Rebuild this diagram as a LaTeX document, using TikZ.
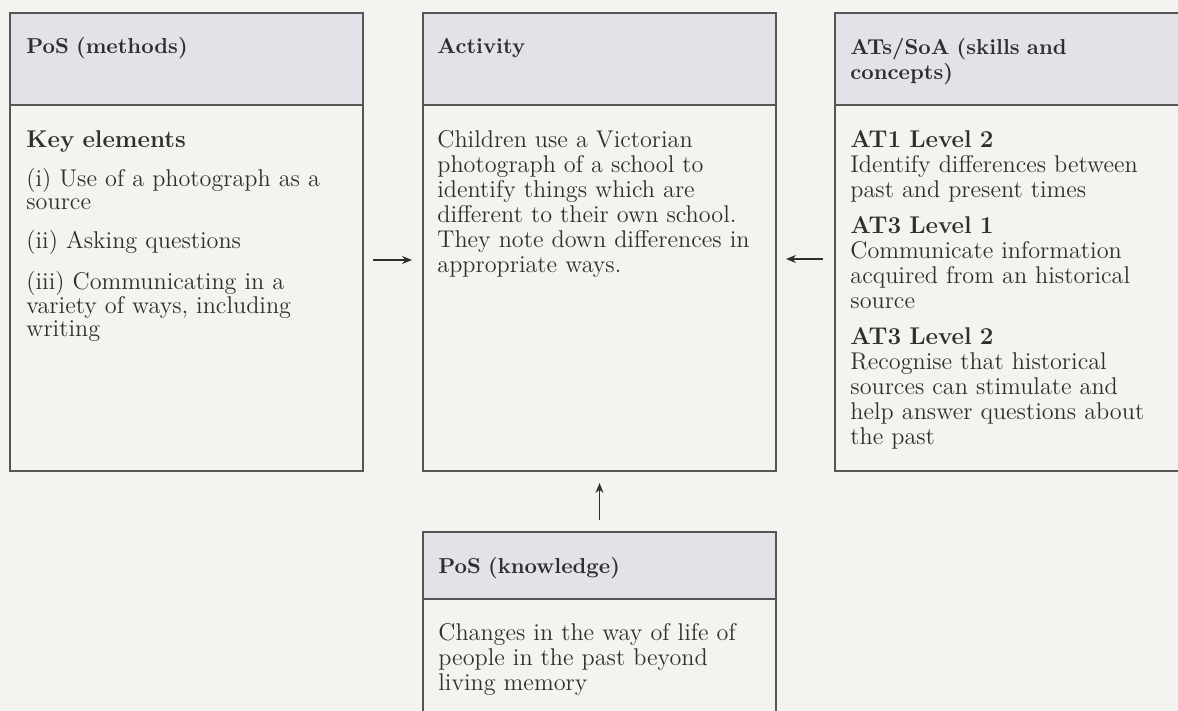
\documentclass[tikz,border=0pt]{standalone}
\usepackage{tikz}
\usetikzlibrary{positioning, arrows.meta}
\definecolor{paper}{HTML}{F3F3EF}
\definecolor{headblue}{HTML}{E1E3E9}
\definecolor{linegrey}{HTML}{555555}
\definecolor{inkgrey}{HTML}{2F2F2F}
\tikzset{
>={Stealth[length=5pt, width=4pt]}, % small filled heads as in the print
headbox/.style={draw=linegrey, fill=headblue, line width=0.6pt, outer sep=0pt, inner sep=0pt, minimum width=176.5pt, minimum height=46pt, anchor=north west},
bodybox/.style={draw=linegrey, line width=0.6pt, outer sep=0pt, inner sep=0pt, minimum width=176.5pt},
headtext/.style={anchor=base west, inner sep=0pt, text width=165pt, align=left, text=inkgrey, font=\fontsize{10.8}{12.5}\selectfont\bfseries},
bodytext/.style={anchor=base west, inner sep=0pt, text width=170pt, align=left, text=inkgrey, font=\fontsize{12.1}{12.5}\selectfont},
link/.style={->, draw=inkgrey, line width=0.65pt},
}
\begin{document}
\begin{tikzpicture}[x=0.5pt, y=-0.5pt]
\useasboundingbox (0,0) rectangle (1178,711);
\fill[paper] (0,0) rectangle (1178,711);
\clip (0,0) rectangle (1178,711);

% the four boxes: a shaded title strip over a plain body
\node[headbox] (mh) at (10,13) {};
\node[bodybox, minimum height=183pt, below=0pt of mh] (mb) {};
\node[headbox] (ah) at (423,13) {};
\node[bodybox, minimum height=183pt, below=0pt of ah] (ab) {};
\node[headbox, minimum width=180pt] (sh) at (835,13) {};
\node[bodybox, minimum width=180pt, minimum height=183pt, below=0pt of sh] (sb) {};
\node[headbox, minimum height=33.5pt] (kh) at (423,532) {};
\node[bodybox, minimum height=70pt, below=0pt of kh] (kb) {};

% titles
\node[headtext] (mht) at ([shift={(16,41)}]mh.north west) {PoS (methods)};
\node[headtext] (aht) at ([shift={(14,41)}]ah.north west) {Activity};
\node[headtext] (sht) at ([shift={(15,42)}]sh.north west) {ATs/SoA (skills and\\ concepts)};
\node[headtext] (kht) at ([shift={(15,41)}]kh.north west) {PoS (knowledge)};

% body texts
\node[bodytext, font=\fontsize{12.1}{11.75}\selectfont] (mbt) at ([shift={(16,43)}]mb.north west)
  {\textbf{Key elements}\\[7.5pt]
   (i) Use of a photograph as a\\ source\\[7.5pt]
   (ii) Asking questions\\[7.5pt]
   (iii) Communicating in a\\ variety of ways, including\\ writing};
\node[bodytext] (abt) at ([shift={(14,43)}]ab.north west)
  {Children use a Victorian\\ photograph of a school to\\ identify things which are\\
   different to their own school.\\ They note down differences in\\ appropriate ways.};
\node[bodytext] (sbt) at ([shift={(15,43)}]sb.north west)
  {\textbf{AT1 Level 2}\\ Identify differences between\\ past and present times\\[5.5pt]
   \textbf{AT3 Level 1}\\ Communicate information\\ acquired from an historical\\ source\\[5.5pt]
   \textbf{AT3 Level 2}\\ Recognise that historical\\ sources can stimulate and\\
   help answer questions about\\ the past};
\node[bodytext] (kbt) at ([shift={(15,41)}]kb.north west)
  {Changes in the way of life of\\ people in the past beyond\\ living memory};

% arrows into the activity
\draw[link, shorten <=5pt, shorten >=5.5pt] ([yshift=14pt]mb.east) -- ([yshift=14pt]ab.west);
\draw[link, shorten <=6pt, shorten >=5pt] ([yshift=14.5pt]sb.west) -- ([yshift=14.5pt]ab.east);
\draw[link, shorten <=6pt, shorten >=6pt] (kh.north) -- (ab.south);
\end{tikzpicture}
\end{document}
